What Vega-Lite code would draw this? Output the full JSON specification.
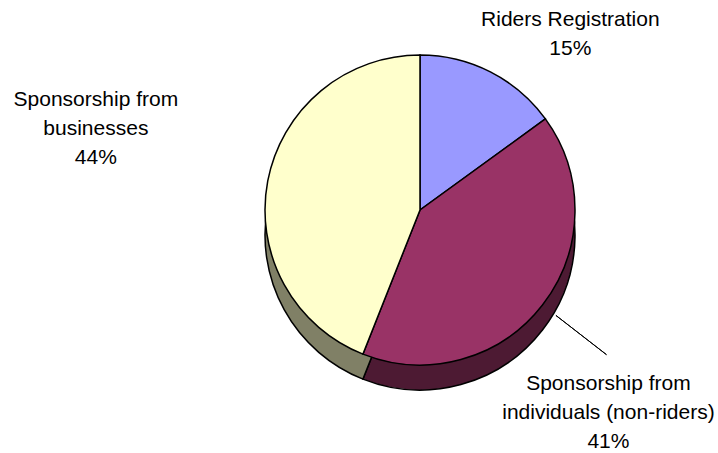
{
  "$schema": "https://vega.github.io/schema/vega-lite/v6.json",
  "width": 596,
  "height": 420,
  "autosize": {"type": "none"},
  "padding": {"left": 122, "top": 0, "right": 0, "bottom": 33},
  "background": "white",
  "config": {"view": {"stroke": null}},
  "data": {
    "values": [
      {"category": "Riders Registration", "value": 15, "order": 1, "label": "Riders Registration\n15%"},
      {"category": "Sponsorship from individuals (non-riders)", "value": 41, "order": 2, "label": "Sponsorship from\nindividuals (non-riders)\n41%"},
      {"category": "Sponsorship from businesses", "value": 44, "order": 3, "label": "Sponsorship from\nbusinesses\n44%"}
    ]
  },
  "encoding": {
    "theta": {"field": "value", "type": "quantitative", "stack": true, "scale": {"domain": [0, 100]}},
    "order": {"field": "order", "type": "quantitative"}
  },
  "layer": [
    {
      "mark": {"type": "arc", "radius": 155, "yOffset": 25, "stroke": "black", "strokeWidth": 1.5},
      "encoding": {
        "color": {"field": "category", "type": "nominal", "legend": null,
          "scale": {"domain": ["Riders Registration", "Sponsorship from individuals (non-riders)", "Sponsorship from businesses"], "range": ["#4D4D80", "#4D1A33", "#808066"]}}
      }
    },
    {
      "mark": {"type": "arc", "radius": 155, "stroke": "black", "strokeWidth": 1.5},
      "encoding": {
        "fill": {"field": "category", "type": "nominal", "legend": null,
          "scale": {"domain": ["Riders Registration", "Sponsorship from individuals (non-riders)", "Sponsorship from businesses"], "range": ["#9999FF", "#993366", "#FFFFCC"]}}
      }
    },
    {
      "mark": {"type": "arc", "radius": 236, "radius2": 172, "padAngle": 3, "fillOpacity": 0, "stroke": "black", "strokeWidth": 1},
      "encoding": {
        "strokeOpacity": {"condition": {"test": "datum.order === 2", "value": 1}, "value": 0}
      }
    },
    {
      "mark": {"type": "text", "radius": 199, "dx": 60, "dy": -13, "font": "Liberation Sans", "fontSize": 21, "lineHeight": 29, "lineBreak": "\n", "align": "center", "baseline": "middle", "color": "black"},
      "encoding": {
        "text": {"condition": {"test": "datum.order === 1", "field": "label"}, "value": ""}
      }
    },
    {
      "mark": {"type": "text", "radius": 260, "dx": -17, "dy": 15, "font": "Liberation Sans", "fontSize": 21, "lineHeight": 29, "lineBreak": "\n", "align": "center", "baseline": "middle", "color": "black"},
      "encoding": {
        "text": {"condition": {"test": "datum.order === 2", "field": "label"}, "value": ""}
      }
    },
    {
      "mark": {"type": "text", "radius": 330, "dx": 0, "dy": -48, "font": "Liberation Sans", "fontSize": 21, "lineHeight": 29, "lineBreak": "\n", "align": "center", "baseline": "middle", "color": "black"},
      "encoding": {
        "text": {"condition": {"test": "datum.order === 3", "field": "label"}, "value": ""}
      }
    }
  ],
  "resolve": {"scale": {"color": "independent", "fill": "independent"}}
}
